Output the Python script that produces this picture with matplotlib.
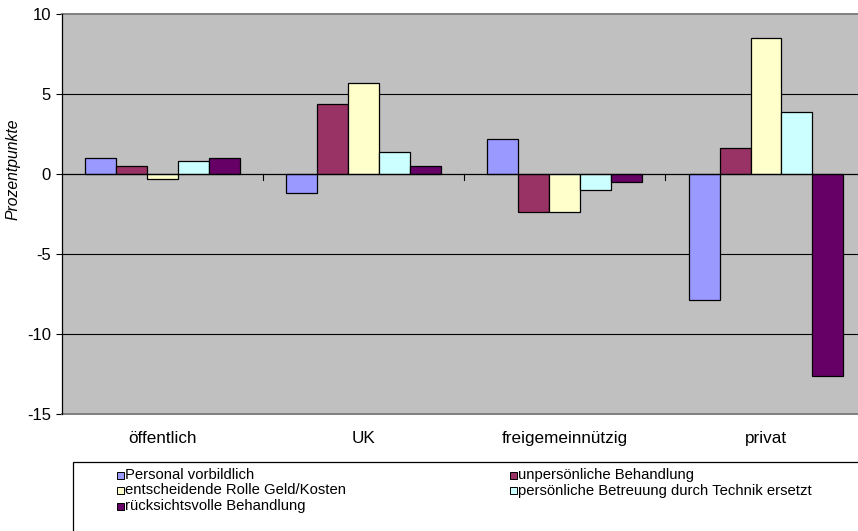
import numpy as np
import matplotlib.pyplot as plt
from matplotlib.patches import Rectangle

plt.rcParams['font.family'] = ['Liberation Sans', 'DejaVu Sans']

categories = ['öffentlich', 'UK', 'freigemeinnützig', 'privat']
series = ['Personal vorbildlich', 'unpersönliche Behandlung',
          'entscheidende Rolle Geld/Kosten',
          'persönliche Betreuung durch Technik ersetzt',
          'rücksichtsvolle Behandlung']
personal = [1.0, -1.2, 2.2, -7.9]
unpersoenlich = [0.5, 4.4, -2.4, 1.6]
geld = [-0.3, 5.7, -2.4, 8.5]
technik = [0.8, 1.4, -1.0, 3.9]
ruecksicht = [1.0, 0.5, -0.5, -12.6]
colors = ['#9999FF', '#993366', '#FFFFCC', '#CCFFFF', '#660066']

values = [personal, unpersoenlich, geld, technik, ruecksicht]

W, H = 858, 531
fig = plt.figure(figsize=(W / 100, H / 100), dpi=100)
ax = fig.add_axes([62 / W, 1 - 414 / H, 1 - 62 / W + 0.01, 400 / H])
ax.set_facecolor('#C0C0C0')

x = np.arange(len(categories))
w = 1 / 6.5
for i, (vals, c) in enumerate(zip(values, colors)):
    ax.bar(x + (i - 2) * w, vals, w, color=c, edgecolor='black',
           linewidth=0.9, zorder=3)

ax.set_xlim(-0.5, 3.5)
ax.set_ylim(-15, 10)
ax.set_yticks([-15, -10, -5, 0, 5, 10])
ax.set_yticklabels(['-15', '-10', '-5', '0', '5', '10'])
for yv in [-10, -5, 5]:
    ax.axhline(yv, color='black', lw=0.8, zorder=1)
ax.axhline(0, color='black', lw=0.9, zorder=4)
ax.set_xticks(x)
ax.set_xticklabels(categories, fontsize=12.3)
ax.tick_params(axis='x', length=0, pad=12)
ax.tick_params(axis='y', length=4, direction='out', labelsize=12, width=0.8, pad=4)
# category separator ticks on the zero line
for xs in [0.5, 1.5, 2.5]:
    ax.plot([xs, xs], [0, -0.35], color='black', lw=0.8, zorder=4, clip_on=False)

for s in ['top', 'right', 'bottom']:
    ax.spines[s].set_visible(False)
ax.spines['left'].set_linewidth(0.9)
ax.spines['left'].set_zorder(5)
ax.plot([-0.5, 3.5], [10, 10], color='#808080', lw=1.4, zorder=2, clip_on=False)
ax.plot([-0.5, 3.5], [-15, -15], color='#808080', lw=1.4, zorder=2, clip_on=False)

fig.text(13 / W, 1 - 169 / H, 'Prozentpunkte', fontsize=11.3, style='italic',
         rotation=90, ha='center', va='center')

# legend box drawn Excel-style, two columns filled row-wise
fig.patches.append(Rectangle((72.5 / W, 1 - 540 / H), 790 / W, 78 / H,
                             transform=fig.transFigure, facecolor='white',
                             edgecolor='black', lw=0.9))
col_x = [117, 510]
row_y = [475, 490.5, 506]
for k, (name, c) in enumerate(zip(series, colors)):
    cx = col_x[k % 2]
    cy = row_y[k // 2]
    fig.patches.append(Rectangle((cx / W, 1 - (cy + 3.5) / H), 7 / W, 7 / H,
                                 transform=fig.transFigure, facecolor=c,
                                 edgecolor='black', lw=0.7))
    fig.text((cx + 8.5) / W, 1 - cy / H, name, fontsize=10.7,
             ha='left', va='center')

fig.savefig('out.png', dpi=100)
